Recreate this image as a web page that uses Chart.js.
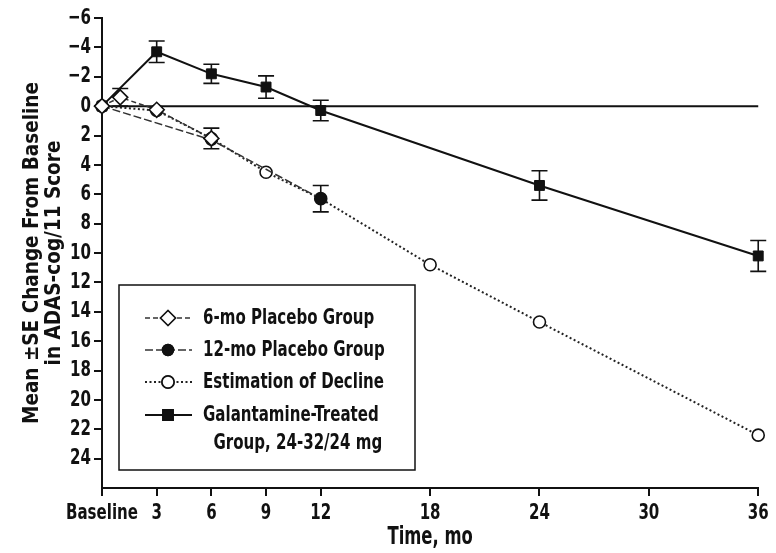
<!DOCTYPE html>
<html>
<head>
<meta charset="utf-8">
<script src="https://cdn.jsdelivr.net/npm/chart.js@4.4.0/dist/chart.umd.min.js"></script>
<style>
  html, body { margin: 0; padding: 0; background: #fff; }
  #wrap { width: 776px; height: 553px; }
</style>
</head>
<body>
<div id="wrap"><canvas id="chart" width="776" height="553"></canvas></div>
<script>
// data (months, change in ADAS-cog/11, SE)
const xTicks = [0, 3, 6, 9, 12, 18, 24, 30, 36];
const yTicks = [-6, -4, -2, 0, 2, 4, 6, 8, 10, 12, 14, 16, 18, 20, 22, 24];

const placebo6Months = [0, 1, 3, 6];
const placebo6Values = [0, -0.6, 0.25, 2.2];
const placebo6SE = [0, 0.6, 0, 0.7];

const placebo12Months = [0, 6, 12];
const placebo12Values = [0, 2.3, 6.3];
const placebo12SE = [0, 0, 0.9];

const estMonths = [0, 3, 6, 9, 12, 18, 24, 36];
const estValues = [0, 0.3, 2.2, 4.5, 6.3, 10.8, 14.7, 22.4];

const galMonths = [0, 3, 6, 9, 12, 24, 36];
const galValues = [0, -3.7, -2.2, -1.3, 0.3, 5.4, 10.2];
const galSE = [0, 0.73, 0.65, 0.76, 0.7, 1.0, 1.05];

const legendLabels = [
  ["6-mo Placebo Group"],
  ["12-mo Placebo Group"],
  ["Estimation of Decline"],
  ["Galantamine-Treated", "  Group, 24-32/24 mg"]
];

const FONT = "'Liberation Sans Narrow', 'Arial Narrow', 'DejaVu Sans Condensed', sans-serif";
// the original uses a tall condensed face; squeeze text by font size
const SQUEEZE = { 22: 0.76, 24: 0.76, 20: 1 };

function pts(xs, ys) {
  return xs.map((x, i) => ({ x: x, y: ys[i] }));
}

const canvas = document.getElementById("chart");
const ctx2d = canvas.getContext("2d");
const origFillText = ctx2d.fillText.bind(ctx2d);
ctx2d.fillText = function (t, x, y, w) {
  let m = /(\d+)(\.\d+)?px/.exec(this.font);
  let s = (m && SQUEEZE[m[1]]) || 1;
  this.save();
  this.translate(x, y);
  this.scale(s, 1);
  if (w === undefined) origFillText(t, 0, 0);
  else origFillText(t, 0, 0, w / s);
  this.restore();
};

// error bars, drawn under the markers
const errorBars = {
  id: "errorBars",
  beforeDatasetsDraw(chart) {
    const ctx = chart.ctx;
    const xs = chart.scales.x, ys = chart.scales.y;
    ctx.save();
    ctx.strokeStyle = "#111";
    ctx.lineWidth = 1.6;
    chart.data.datasets.forEach(ds => {
      if (!ds.se) return;
      ds.data.forEach((p, i) => {
        let se = ds.se[i];
        if (!se) return;
        let px = xs.getPixelForValue(p.x);
        let top = ys.getPixelForValue(p.y - se);
        let bot = ys.getPixelForValue(p.y + se);
        ctx.beginPath();
        ctx.moveTo(px, top); ctx.lineTo(px, bot);
        ctx.moveTo(px - 8, top); ctx.lineTo(px + 8, top);
        ctx.moveTo(px - 8, bot); ctx.lineTo(px + 8, bot);
        ctx.stroke();
      });
    });
    ctx.restore();
  }
};

// boxed legend inside the plot, like the original
const boxLegend = {
  id: "boxLegend",
  afterDraw(chart) {
    const ctx = chart.ctx;
    ctx.save();
    ctx.fillStyle = "#fff";
    ctx.fillRect(119, 285, 296, 185);
    ctx.strokeStyle = "#111";
    ctx.lineWidth = 1.5;
    ctx.strokeRect(119, 285, 296, 185);

    let rows = [318, 350, 382, 415];
    let sets = chart.data.datasets.filter(d => d.legendIdx !== undefined);
    sets.sort((a, b) => a.legendIdx - b.legendIdx);
    sets.forEach((ds, k) => {
      let y = rows[k];
      ctx.strokeStyle = ds.borderColor;
      ctx.lineWidth = ds.borderWidth;
      ctx.setLineDash(ds.borderDash || []);
      ctx.beginPath();
      ctx.moveTo(145, y); ctx.lineTo(192, y);
      ctx.stroke();
      ctx.setLineDash([]);
      Chart.helpers.drawPoint(ctx, {
        pointStyle: ds.pointStyle,
        radius: ds.pointRadius,
        borderWidth: ds.pointBorderWidth || 1.5
      }, 168, y);
      ctx.fillStyle = ds.pointBackgroundColor;
      ctx.strokeStyle = ds.pointBorderColor;
      ctx.lineWidth = 1.5;
      ctx.fill();
      ctx.stroke();

      ctx.fillStyle = "#111";
      ctx.font = "bold 22px " + FONT;
      ctx.textBaseline = "middle";
      ctx.textAlign = "left";
      legendLabels[k].forEach((t, j) => {
        ctx.fillText(t, 203, y + j * 28);
      });
    });
    ctx.restore();
  }
};

new Chart(ctx2d, {
  type: "line",
  data: {
    datasets: [
      {
        label: "zero",
        data: pts([0, 36], [0, 0]),
        borderColor: "#111",
        borderWidth: 2,
        pointRadius: 0,
        order: 5
      },
      {
        label: "6-mo Placebo Group",
        legendIdx: 0,
        data: pts(placebo6Months, placebo6Values),
        se: placebo6SE,
        borderColor: "#333",
        borderWidth: 1.5,
        borderDash: [5, 3],
        pointStyle: "rectRot",
        pointRadius: 7.5,
        pointBackgroundColor: "#fff",
        pointBorderColor: "#111",
        pointBorderWidth: 1.6,
        order: 0
      },
      {
        label: "12-mo Placebo Group",
        legendIdx: 1,
        data: pts(placebo12Months, placebo12Values),
        se: placebo12SE,
        borderColor: "#333",
        borderWidth: 1.5,
        borderDash: [8, 3],
        pointStyle: "circle",
        pointRadius: 5.5,
        pointBackgroundColor: "#111",
        pointBorderColor: "#111",
        pointBorderWidth: 1.5,
        order: 1
      },
      {
        label: "Estimation of Decline",
        legendIdx: 2,
        data: pts(estMonths, estValues),
        borderColor: "#222",
        borderWidth: 2,
        borderDash: [2, 2.5],
        pointStyle: "circle",
        pointRadius: 6,
        pointBackgroundColor: "#fff",
        pointBorderColor: "#111",
        pointBorderWidth: 1.6,
        order: 2
      },
      {
        label: "Galantamine-Treated Group, 24-32/24 mg",
        legendIdx: 3,
        data: pts(galMonths, galValues),
        se: galSE,
        borderColor: "#111",
        borderWidth: 2,
        pointStyle: "rect",
        pointRadius: 7,
        pointBackgroundColor: "#111",
        pointBorderColor: "#111",
        pointBorderWidth: 1,
        order: 3
      }
    ]
  },
  options: {
    responsive: false,
    animation: false,
    events: [],
    clip: false,
    layout: { padding: { top: 18, right: 10, left: 0, bottom: 0 } },
    plugins: {
      legend: { display: false },
      tooltip: { enabled: false }
    },
    elements: { line: { tension: 0 } },
    scales: {
      x: {
        type: "linear",
        min: 0,
        max: 36,
        afterBuildTicks: s => { s.ticks = xTicks.map(v => ({ value: v })); },
        afterFit: s => { s.height = 65; },
        grid: { drawOnChartArea: false, drawTicks: true, tickLength: 8, color: "#111", lineWidth: 2 },
        border: { color: "#111", width: 2 },
        ticks: {
          autoSkip: false,
          maxRotation: 0,
          color: "#111",
          padding: 4,
          font: { family: FONT, size: 22, weight: "bold" },
          callback: v => (v === 0 ? "Baseline" : v)
        },
        title: {
          display: true,
          text: "Time, mo",
          color: "#111",
          padding: { top: 0, bottom: 1 },
          font: { family: FONT, size: 24, weight: "bold" }
        }
      },
      y: {
        type: "linear",
        reverse: true,
        min: -6,
        max: 26,
        afterBuildTicks: s => { s.ticks = yTicks.map(v => ({ value: v })); },
        afterFit: s => { s.width = 102; },
        grid: { drawOnChartArea: false, drawTicks: true, tickLength: 8, color: "#111", lineWidth: 2 },
        border: { color: "#111", width: 2 },
        ticks: {
          autoSkip: false,
          color: "#111",
          padding: 3,
          font: { family: FONT, size: 22, weight: "bold" },
          callback: v => String(v).replace("-", "\u2212")
        },
        title: {
          display: true,
          text: ["Mean \u00b1SE Change From Baseline", "in ADAS-cog/11 Score"],
          color: "#111",
          padding: { top: 22, bottom: 0 },
          font: { family: FONT, size: 20.5, weight: "bold", lineHeight: 1.07 }
        }
      }
    }
  },
  plugins: [errorBars, boxLegend]
});
</script>
</body>
</html>
